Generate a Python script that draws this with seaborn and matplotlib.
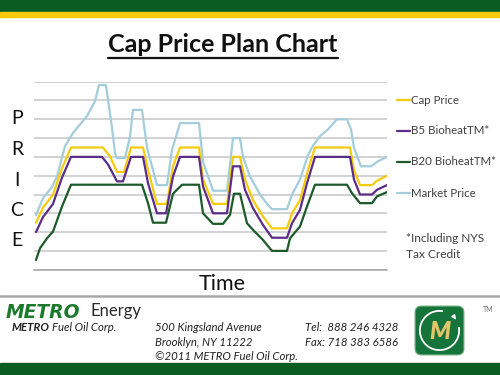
import matplotlib
matplotlib.use("Agg")
import matplotlib.pyplot as plt
import seaborn as sns
import pandas as pd
from matplotlib.lines import Line2D
from matplotlib.patches import Rectangle, FancyBboxPatch, Arc, FancyArrowPatch

# ---- data (time index, price in grid units) ----
cap_t = [2, 9, 19, 28, 37, 69, 76, 83, 90, 97, 109, 114, 123, 133, 139, 146, 165, 169, 179, 193,
         199, 206, 211, 219, 229, 238, 253, 258, 266, 274, 281, 316, 320, 326, 338, 343, 353]
cap_v = [2.5, 3.3, 4.0, 5.4, 6.5, 6.5, 6.03, 5.2, 5.2, 6.5, 6.5, 5.3, 3.5, 3.5, 5.5, 6.5, 6.5, 4.8, 3.5, 3.5,
         6.0, 6.0, 4.8, 3.7, 2.83, 2.2, 2.2, 3.0, 3.7, 5.3, 6.5, 6.5, 5.3, 4.5, 4.5, 4.73, 5.0]
b5_t = [2, 9, 19, 28, 37, 68, 74, 83, 89, 97, 109, 114, 123, 132, 139, 146, 165, 169, 179, 193,
        199, 206, 211, 219, 229, 238, 253, 258, 266, 273, 281, 316, 320, 326, 338, 343, 353]
b5_v = [2.0, 2.8, 3.5, 4.9, 6.0, 6.0, 5.6, 4.7, 4.7, 6.0, 6.0, 4.6, 3.0, 3.0, 4.96, 6.0, 6.0, 4.43, 3.0, 3.0,
        5.5, 5.5, 4.25, 3.27, 2.38, 1.7, 1.7, 2.47, 3.18, 4.6, 6.0, 6.0, 4.8, 4.0, 4.0, 4.25, 4.5]
b20_t = [2, 6, 13, 19, 28, 37, 108, 114, 119, 132, 139, 148, 165, 169, 179, 189, 196, 200, 206, 213,
         219, 229, 238, 253, 256, 266, 273, 281, 313, 318, 326, 338, 343, 353]
b20_v = [0.52, 1.14, 1.67, 2.03, 3.36, 4.52, 4.52, 3.54, 2.5, 2.5, 4.04, 4.52, 4.52, 3.0, 2.44, 2.44, 2.92, 4.04, 4.04, 2.47,
         2.12, 1.58, 1.0, 1.0, 1.67, 2.3, 3.36, 4.52, 4.52, 4.07, 3.54, 3.54, 3.9, 4.13]
mkt_t = [2, 9, 18, 23, 31, 39, 53, 61, 65, 72, 78, 81, 83, 91, 96, 99, 108, 113, 123, 133,
         138, 141, 146, 165, 169, 179, 193, 199, 206, 209, 216, 226, 233, 238, 253, 258, 266, 274, 279, 286,
         294, 303, 313, 317, 320, 327, 337, 344, 353]
mkt_v = [2.9, 3.8, 4.4, 4.96, 6.57, 7.28, 8.17, 8.97, 9.82, 9.82, 7.54, 6.2, 5.94, 5.94, 7.07, 8.5, 8.5, 6.5, 4.5, 4.5,
         6.37, 6.9, 7.8, 7.8, 5.75, 4.2, 4.2, 7.0, 7.0, 6.0, 4.96, 4.0, 3.5, 3.22, 3.22, 4.0, 4.8, 6.1, 6.6, 7.1,
         7.46, 8.0, 8.0, 7.46, 6.48, 5.5, 5.5, 5.77, 6.0]

series_names = ["Cap Price", "B5 BioheatTM*", "B20 BioheatTM*", "Market Price"]
series_colors = ["#f5cb0c", "#5c2d88", "#1c5a2a", "#a3cddb"]

frames = []
for name, t, v in [(series_names[0], cap_t, cap_v), (series_names[1], b5_t, b5_v),
                   (series_names[2], b20_t, b20_v), (series_names[3], mkt_t, mkt_v)]:
    frames.append(pd.DataFrame({"time": t, "price": v, "series": name}))
df = pd.concat(frames, ignore_index=True)

sns.set_theme(style="white")
plt.rcParams["font.family"] = ["Lato", "DejaVu Sans"]

W, H = 500, 375
fig = plt.figure(figsize=(5, 3.75), dpi=100)

def fx(x):
    return x / W

def fy(y):
    return 1 - y / H

# bands
fig.patches.append(Rectangle((0, fy(12)), 1, 12 / H, transform=fig.transFigure, color="#0b5c22", zorder=0))
fig.patches.append(Rectangle((0, fy(17)), 1, 5 / H, transform=fig.transFigure, color="#f7c908", zorder=0))
fig.patches.append(Rectangle((0, 0), 1, 12.5 / H, transform=fig.transFigure, color="#0b5c22", zorder=0))
fig.add_artist(Line2D([0, 1], [fy(295.5), fy(295.5)], transform=fig.transFigure, color="#a8a8a8", lw=1.8))

# axes
ax = fig.add_axes([fx(34), fy(269.7), fx(387) - fx(34), (269.7 - 81.7) / H])
order_pal = dict(zip(series_names, series_colors))
plot_order = ["Market Price", "Cap Price", "B5 BioheatTM*", "B20 BioheatTM*"]
for name in plot_order:
    sub = df[df["series"] == name]
    sns.lineplot(data=sub, x="time", y="price", color=order_pal[name], lw=1.6,
                 estimator=None, sort=False, ax=ax, legend=False)
ax.set_xlim(0, 353)
ax.set_ylim(0, 10)
ax.set_yticks(range(0, 11))
ax.set_xticks([])
ax.set_yticklabels([])
ax.tick_params(left=False, bottom=False)
ax.grid(axis="y", color="#c6c6c6", lw=1.1)
ax.set_axisbelow(True)
for s in ["top", "right", "left"]:
    ax.spines[s].set_visible(False)
ax.spines["bottom"].set_color("#a6a6a6")
ax.spines["bottom"].set_linewidth(1.1)
ax.set_xlabel("")
ax.set_ylabel("")

# title with underline
title = fig.text(fx(223), fy(45), "Cap Price Plan Chart", ha="center", va="center",
                 fontsize=18, fontweight="bold", color="#111111")
fig.canvas.draw()
bb = title.get_window_extent(renderer=fig.canvas.get_renderer())
fig.add_artist(Line2D([bb.x0 / W, bb.x1 / W], [fy(57.5), fy(57.5)], transform=fig.transFigure,
                      color="#111111", lw=1.6))

# PRICE vertical letters
for letter, yy in zip("PRICE", [119, 149.5, 180, 210, 240]):
    fig.text(fx(17), fy(yy), letter, ha="center", va="center", fontsize=14, color="#111111")

fig.text(fx(222), fy(284), "Time", ha="center", va="center", fontsize=15.5, color="#111111")

# legend
for name, col, yy in zip(series_names, series_colors, [100, 131, 162, 193]):
    fig.add_artist(Line2D([fx(397), fx(410)], [fy(yy), fy(yy)], transform=fig.transFigure, color=col, lw=1.6))
    fig.text(fx(411), fy(yy), name, ha="left", va="center", fontsize=8.3, color="#404040")
fig.text(fx(406), fy(239), "*Including NYS", ha="left", va="center", fontsize=8.6, color="#404040")
fig.text(fx(406), fy(254), "Tax Credit", ha="left", va="center", fontsize=8.6, color="#404040")

# footer
fig.text(fx(6), fy(312), "METRO", ha="left", va="center", fontsize=13.5, fontweight="bold",
         fontstyle="italic", family=["DejaVu Sans"], color="#1d7a2c")
fig.text(fx(91), fy(311), "Energy", ha="left", va="center", fontsize=12, color="#2a2a2a")
t1 = fig.text(fx(12), fy(327.5), "METRO", ha="left", va="center", fontsize=8.2, fontweight="bold",
              fontstyle="italic", color="#222222")
fig.canvas.draw()
b1 = t1.get_window_extent(renderer=fig.canvas.get_renderer())
fig.text(b1.x1 / W + 2 / W, fy(327.5), "Fuel Oil Corp.", ha="left", va="center", fontsize=8.2,
         fontstyle="italic", color="#222222")
for txt, yy in [("500 Kingsland Avenue", 327.5), ("Brooklyn, NY 11222", 342.5),
                ("\u00a92011 METRO Fuel Oil Corp.", 357)]:
    fig.text(fx(155), fy(yy), txt, ha="left", va="center", fontsize=8.2, fontstyle="italic", color="#222222")
for txt, yy in [("Tel:  888 246 4328", 327.5), ("Fax: 718 383 6586", 342.5)]:
    fig.text(fx(305), fy(yy), txt, ha="left", va="center", fontsize=8.2, fontstyle="italic", color="#222222")

# logo
lax = fig.add_axes([fx(413), fy(357), 53 / W, 53 / H])
lax.set_xlim(0, 1)
lax.set_ylim(0, 1)
lax.axis("off")
lax.add_patch(FancyBboxPatch((0.04, 0.04), 0.92, 0.92, boxstyle="round,pad=0,rounding_size=0.12",
                             fc="#14743a", ec="#6aa878", lw=0.8))
lax.add_patch(Arc((0.5, 0.5), 0.74, 0.74, theta1=80, theta2=370, color="white", lw=1.3))
lax.add_patch(FancyArrowPatch((0.76, 0.78), (0.84, 0.66), arrowstyle="-|>", mutation_scale=6,
                              color="white", lw=1.0))
lax.text(0.5, 0.48, "M", ha="center", va="center", fontsize=17, fontweight="heavy",
         fontstyle="italic", color="#e2c46a")
fig.text(fx(488), fy(310), "TM", ha="center", va="center", fontsize=5, color="#777777")

fig.savefig("out.png", dpi=100)
